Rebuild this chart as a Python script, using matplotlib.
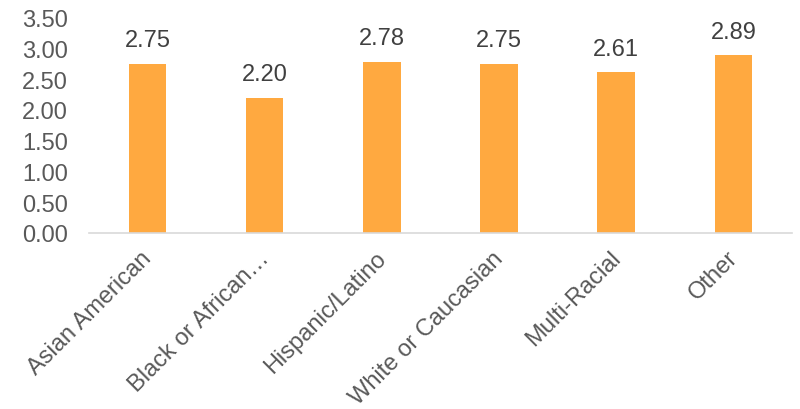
import matplotlib.pyplot as plt
import matplotlib.transforms as mtransforms
import numpy as np

plt.rcParams['font.family'] = ['Liberation Sans', 'DejaVu Sans']

categories = ["Asian American", "Black or African\u2026", "Hispanic/Latino",
              "White or Caucasian", "Multi-Racial", "Other"]
values = [2.75, 2.20, 2.78, 2.75, 2.61, 2.89]
value_labels = ["2.75", "2.20", "2.78", "2.75", "2.61", "2.89"]
yticks = [0.0, 0.5, 1.0, 1.5, 2.0, 2.5, 3.0, 3.5]

bar_color = "#FFA940"
text_color = "#595959"

fig = plt.figure(figsize=(8, 4.1), dpi=100)
ax = fig.add_axes([0.111, 0.430, 0.879, 0.524])

x = np.arange(len(categories))
ax.bar(x, values, width=0.32, color=bar_color)

for xi, v, lab in zip(x, values, value_labels):
    ax.text(xi, v + 0.29, lab, ha="center", va="baseline", fontsize=17, color="#404040")

ax.set_xlim(-0.5, len(categories) - 0.5)
ax.set_ylim(0, 3.5)
ax.set_yticks(yticks)
ax.set_yticklabels([f"{t:.2f}" for t in yticks], fontsize=17, color=text_color)
ax.set_xticks(x)
ax.set_xticklabels(categories, rotation=45, ha="right", rotation_mode="anchor",
                   fontsize=17, color=text_color)
ax.tick_params(axis="x", length=0, pad=10)
ax.tick_params(axis="y", length=0, pad=15)

# сдвиг подписей категорий чуть левее
offset = mtransforms.ScaledTranslation(-5 / 72, 0, fig.dpi_scale_trans)
for lbl in ax.get_xticklabels():
    lbl.set_transform(lbl.get_transform() + offset)

for s in ["top", "right", "left"]:
    ax.spines[s].set_visible(False)
ax.spines["bottom"].set_color("#D9D9D9")
ax.spines["bottom"].set_linewidth(1.2)

fig.savefig("out.png", dpi=100)
